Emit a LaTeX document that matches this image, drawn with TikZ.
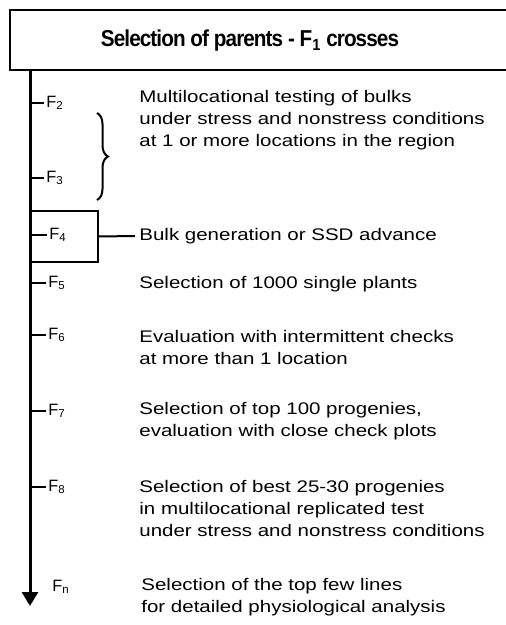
\documentclass[tikz,border=0pt]{standalone}
\usepackage{fontspec}
\setmainfont{Liberation Sans}
\newfontfamily\stagefont{Liberation Sans}[FakeStretch=1.22]
\newfontfamily\headfont{Liberation Sans}[FakeStretch=0.9,LetterSpace=-4]
\usetikzlibrary{arrows.meta,decorations.pathreplacing}

\tikzset{
  headline/.style={font=\headfont\bfseries\fontsize{11.5}{13}\selectfont, inner sep=0pt},
  stagetext/.style={font=\stagefont\fontsize{8.4}{11}\selectfont, anchor=west, align=left, inner sep=2pt},
  genlabel/.style={font=\fontsize{8.2}{9}\selectfont, anchor=west, inner sep=1pt},
  tickline/.style={line width=1.2pt},
  frame/.style={line width=1pt},
  bracket/.style={line width=1pt, decorate, decoration={brace, amplitude=5.5pt}},
}

\begin{document}
\begin{tikzpicture}[x=0.5pt,y=-0.5pt]
\useasboundingbox (0,0) rectangle (506,625);

% header box, open to the right
\draw [frame] (515,10) -| (10,70) -- (515,70);
\node[headline] (parents) at (250,41) {Selection of parents - F\textsubscript{1} crosses};

% generation axis
\coordinate (top) at (30,70);
\coordinate (bottom) at (30,606);
\draw [line width=1.5pt,-{Triangle[width=8pt,length=7pt]}] (top) -- (bottom);

% generations
\node[genlabel] (f2) at (44,103) {F\textsubscript{2}};
\node[genlabel] (f3) at (44,178) {F\textsubscript{3}};
\node[genlabel] (f4) at (47,235) {F\textsubscript{4}};
\node[genlabel] (f5) at (46,283) {F\textsubscript{5}};
\node[genlabel] (f6) at (46,335) {F\textsubscript{6}};
\node[genlabel] (f7) at (46,411) {F\textsubscript{7}};
\node[genlabel] (f8) at (46,487) {F\textsubscript{8}};
\node[genlabel] (fn) at (50,587) {F\textsubscript{n}};

\foreach \g in {f2,f3,f4,f5,f6,f7,f8}
  \draw [tickline] (\g.west -| top) -- (\g.west);

\draw [bracket] (97,113) -- (97,200);

\node[draw, frame, anchor=north west, inner sep=0pt,
      minimum width=33.5pt, minimum height=25.5pt] (f4box) at (30,210) {};

% what happens in each generation
\node[stagetext] (bulks) at (135,120) {Multilocational testing of bulks\\
  under stress and nonstress conditions\\
  at 1 or more locations in the region};
\node[stagetext] (ssd) at (135,236) {Bulk generation or SSD advance};
\node[stagetext] (plants) at (135,284) {Selection of 1000 single plants};
\node[stagetext] (checks) at (135,347) {Evaluation with intermittent checks\\
  at more than 1 location};
\node[stagetext] (top100) at (135,421) {Selection of top 100 progenies,\\
  evaluation with close check plots};
\node[stagetext] (best) at (135,508) {Selection of best 25-30 progenies\\
  in multilocational replicated test\\
  under stress and nonstress conditions};
\node[stagetext] (lines) at (137,597) {Selection of the top few lines\\
  for detailed physiological analysis};

\draw [frame] (f4box.east) -- (ssd.west);

\end{tikzpicture}
\end{document}
